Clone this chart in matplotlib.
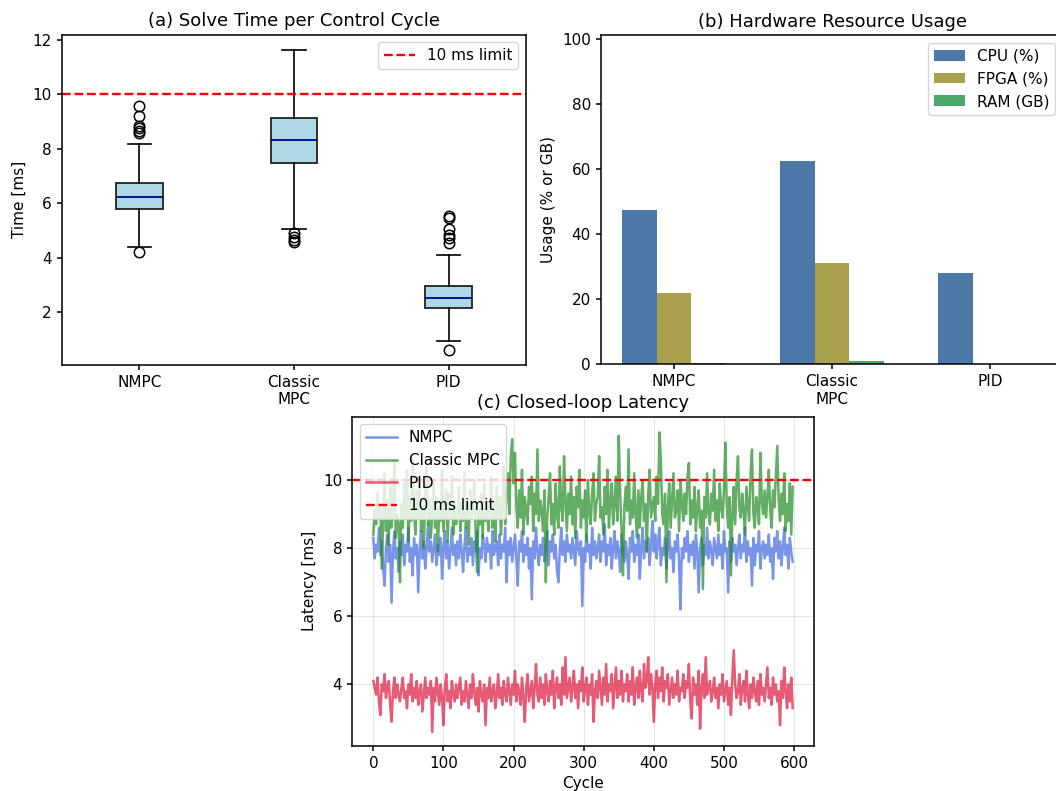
import matplotlib
matplotlib.use("Agg")
import matplotlib.pyplot as plt
import numpy as np

plt.rcParams.update({
    "font.size": 11,
    "axes.titlesize": 13,
    "axes.labelsize": 11,
    "legend.fontsize": 11,
    "axes.linewidth": 1.1,
    "xtick.major.width": 1.1,
    "ytick.major.width": 1.1,
    "xtick.major.size": 3.8,
    "ytick.major.size": 3.8,
})

# ---------------- data ----------------
controllers = ["NMPC", "Classic\nMPC", "PID"]

# (a) box-plot statistics
box_med = [6.23, 8.32, 2.53]
box_q1 = [5.77, 7.46, 2.14]
box_q3 = [6.73, 9.12, 2.96]
box_wlo = [4.40, 5.05, 0.95]
box_whi = [8.17, 11.61, 4.10]
fliers_nmpc = [4.21, 8.57, 8.66, 8.76, 8.84, 9.20, 9.57]
fliers_mpc = [4.59, 4.65, 4.75, 4.89]
fliers_pid = [0.63, 4.53, 4.71, 4.83, 5.04, 5.44, 5.53]

# (b) hardware usage
cpu = [47.4, 62.6, 28.0]
fpga = [21.8, 31.1, 0.0]
ram = [0.5, 0.9, 0.0]

# (c) closed-loop latency (every 2nd cycle)
cycles = list(range(0, 600, 2))
lat_nmpc = [
    8.3,7.7,8.1,7.9,8.6,7.8,8.2,7.4,6.9,8.0,8.4,7.6,8.1,6.4,7.9,8.5,7.7,8.0,7.3,8.2,
    7.8,8.4,7.5,8.1,7.9,8.6,7.6,8.0,7.2,8.3,7.8,8.1,6.7,7.9,8.5,7.7,8.2,7.4,8.0,8.7,
    7.9,8.2,7.6,8.0,8.4,7.5,8.1,7.8,8.3,7.1,8.0,8.5,7.7,8.2,7.4,7.9,8.6,7.8,8.1,7.5,
    8.2,7.7,8.4,7.9,7.3,8.1,8.6,7.6,8.0,7.8,8.3,7.5,8.2,7.9,8.5,7.2,8.0,7.7,8.4,8.1,
    7.6,8.3,7.9,8.1,7.4,8.5,7.8,8.0,8.2,7.5,8.4,7.7,8.1,7.9,8.6,7.0,8.2,7.8,8.3,7.6,
    8.0,8.4,7.7,6.9,8.2,7.9,8.5,7.6,8.1,7.8,8.3,7.4,8.0,6.5,8.2,7.7,8.6,7.9,7.5,8.1,
    7.8,8.3,7.6,8.0,8.5,7.5,8.2,7.9,8.4,7.7,8.1,7.3,7.0,8.0,8.6,7.8,8.2,7.6,8.4,7.9,
    8.1,7.7,8.3,7.9,7.5,8.5,8.0,7.8,8.2,6.3,8.0,7.6,8.4,7.9,8.1,7.4,8.6,7.8,8.2,7.7,
    8.0,8.4,7.6,8.2,7.9,8.7,7.5,8.1,7.8,8.3,7.4,8.0,8.5,7.7,8.2,7.9,7.3,8.4,8.0,7.6,
    8.2,7.8,7.1,8.3,7.9,8.5,7.6,8.1,7.8,8.4,7.1,8.0,8.6,7.7,8.2,7.9,8.3,7.5,8.1,8.8,
    7.9,8.4,7.7,8.2,8.6,7.5,8.0,7.8,8.3,7.4,8.1,8.5,7.7,8.0,7.3,8.2,7.9,8.4,7.6,6.2,
    8.0,7.7,8.3,7.9,8.5,7.6,8.1,7.8,8.2,7.4,8.4,7.9,6.7,8.0,8.3,7.5,8.1,7.8,8.6,7.7,
    8.2,7.9,7.5,8.3,8.0,7.7,8.4,7.8,8.1,7.4,8.5,7.9,8.0,6.7,8.2,7.6,8.3,7.9,8.1,7.5,
    8.0,8.4,7.7,8.1,7.9,8.6,7.6,8.2,7.8,8.0,6.9,8.3,7.5,8.1,7.9,8.5,7.4,8.0,8.2,7.7,
    8.1,7.8,8.4,7.6,8.0,7.1,8.3,7.9,8.5,7.7,8.2,7.5,8.0,8.6,7.8,8.1,7.4,8.3,7.9,7.6,
]
lat_mpc = [
    8.4,9.1,8.7,9.6,8.9,9.3,7.4,8.8,10.2,8.5,9.4,8.1,9.8,8.6,9.2,10.5,8.3,9.0,8.7,7.0,
    9.3,8.6,9.9,8.9,10.3,8.2,9.5,8.8,10.6,9.1,8.4,9.7,8.9,10.1,8.5,9.2,8.0,9.6,10.4,8.7,
    9.4,8.3,9.0,10.0,8.6,9.5,7.9,9.2,8.8,10.3,8.5,9.1,9.7,8.2,9.6,8.9,10.1,8.4,9.3,8.7,
    9.0,9.8,8.5,9.3,8.8,10.2,8.6,9.4,8.1,9.7,8.9,9.2,10.0,8.4,7.3,9.1,8.7,9.6,8.3,9.9,
    8.8,9.4,8.5,9.1,10.1,8.6,9.3,8.2,9.8,8.9,9.5,8.4,9.2,10.4,8.7,9.6,10.2,9.0,10.7,11.2,
    9.9,10.8,9.2,8.6,9.7,8.9,10.3,8.4,9.5,9.1,8.7,9.8,9.3,10.1,8.5,9.6,9.0,10.9,8.8,9.4,
    9.1,8.5,9.7,7.0,8.9,9.5,10.2,8.7,9.3,8.4,9.9,9.0,8.6,10.4,9.2,8.8,10.7,9.4,8.5,9.6,
    9.0,10.1,8.7,9.5,8.3,9.8,9.2,10.3,8.6,9.4,8.9,9.7,8.2,10.0,9.1,8.7,9.6,10.2,8.8,9.3,
    9.5,10.7,8.9,9.2,8.4,9.8,9.0,10.3,8.6,9.4,9.9,8.7,9.3,10.1,8.8,11.3,9.6,8.5,7.2,9.2,
    9.8,9.1,10.9,8.7,9.4,8.9,10.2,9.0,8.3,9.7,8.6,9.5,10.0,8.8,9.3,7.9,9.6,10.3,8.9,9.2,
    9.5,8.8,10.1,9.3,11.4,10.6,9.0,8.7,9.6,7.0,9.2,9.9,8.6,9.4,10.2,8.9,9.1,9.7,8.5,10.0,
    9.3,8.8,9.6,9.0,10.1,10.5,8.7,9.4,8.9,9.8,8.5,9.2,9.7,8.6,9.1,6.8,9.5,8.9,10.2,9.0,
    8.7,9.6,9.1,10.3,8.8,9.4,8.5,9.9,9.2,8.9,9.7,11.1,9.3,8.6,9.5,7.2,9.0,9.8,8.7,10.0,
    10.7,9.2,8.9,9.6,9.1,8.4,9.8,9.3,8.8,10.2,10.9,9.0,8.6,9.5,9.2,8.7,10.8,9.4,9.0,9.7,
    8.9,9.5,10.3,9.1,8.6,9.7,9.2,10.1,11.0,9.4,8.8,9.6,9.0,10.2,8.5,9.3,8.8,9.9,8.4,9.8,
]
lat_pid = [
    4.1,3.9,3.7,4.2,3.5,3.1,4.0,3.8,4.3,3.6,3.9,4.1,3.4,2.9,3.8,4.2,3.6,4.0,3.7,3.5,
    3.9,4.2,3.6,3.8,3.3,4.0,3.7,4.3,3.5,3.9,3.6,4.1,3.4,3.8,4.0,3.2,3.7,4.2,3.6,3.9,
    3.7,4.1,2.6,3.9,3.5,4.2,3.8,3.4,4.0,3.6,2.8,3.9,4.3,3.5,3.8,3.3,4.1,3.7,3.5,4.0,
    3.6,3.9,4.2,3.4,3.8,3.5,4.1,3.7,3.3,4.0,3.6,4.3,3.8,3.4,3.9,3.2,4.1,3.7,3.5,4.0,
    2.8,3.9,3.6,4.2,3.5,3.8,4.0,3.3,3.7,4.3,3.6,3.9,3.4,4.1,3.7,3.5,4.2,3.8,3.4,4.0,
    3.7,4.4,3.5,4.0,3.8,3.4,4.2,3.6,2.9,3.9,4.3,3.5,3.8,4.1,3.3,3.9,4.6,3.7,3.5,4.2,
    3.6,4.0,3.4,4.3,3.8,3.5,4.1,3.7,4.4,3.3,3.9,4.2,3.6,4.0,3.4,4.5,3.7,4.8,3.6,3.9,
    4.2,3.5,3.9,4.4,3.6,4.0,3.3,4.1,3.8,4.5,3.5,3.9,4.2,3.4,4.0,3.7,4.3,2.9,3.8,4.1,
    3.6,4.4,3.9,3.4,4.2,3.7,4.6,3.5,4.0,3.8,4.3,3.3,3.9,4.5,3.6,4.1,3.7,4.4,3.5,4.0,
    3.8,4.3,3.5,4.1,3.7,4.5,3.4,3.9,4.2,3.6,4.4,3.8,3.5,4.6,3.9,4.1,4.8,3.7,4.3,3.9,
    2.9,4.0,4.4,3.6,4.2,3.8,4.5,3.5,4.1,3.9,4.3,3.4,3.8,4.2,3.6,4.0,3.7,4.4,3.5,3.9,
    3.8,4.3,3.6,4.1,3.9,4.6,3.5,3.0,4.2,3.7,4.0,3.4,4.4,2.7,3.9,4.3,3.6,4.8,3.7,3.9,
    4.1,3.5,3.8,4.2,3.6,3.9,3.3,4.0,3.7,4.3,3.5,3.8,4.1,3.4,3.9,3.1,4.2,5.0,4.0,3.6,
    3.8,4.3,3.4,3.9,4.1,3.5,4.4,3.7,3.3,4.0,3.6,4.2,3.8,3.5,4.1,3.4,4.3,3.7,3.9,3.5,
    4.0,4.5,3.6,3.9,3.4,4.2,3.7,4.0,3.5,3.8,2.8,4.1,3.6,4.5,3.8,3.3,4.0,3.5,4.2,3.3,
]
limit_ms = 10.0

# ---------------- figure ----------------
fig = plt.figure(figsize=(10.56, 7.91), dpi=100)
W, H = 1056.0, 791.0

def px_axes(left, top, right, bottom):
    return fig.add_axes([left / W, 1 - bottom / H, (right - left) / W, (bottom - top) / H])

# (a) box plot
axA = px_axes(62, 34.6, 526, 364.5)
all_fliers = [fliers_nmpc, fliers_mpc, fliers_pid]
stats = []
for i, lab in enumerate(controllers):
    stats.append(dict(label=lab, med=box_med[i], q1=box_q1[i], q3=box_q3[i],
                      whislo=box_wlo[i], whishi=box_whi[i], fliers=all_fliers[i]))
axA.bxp(stats, positions=[1, 2, 3], widths=0.3, patch_artist=True,
        boxprops=dict(facecolor="lightblue", edgecolor="#222222", linewidth=1.3),
        medianprops=dict(color="darkblue", linewidth=1.3),
        whiskerprops=dict(color="black", linewidth=1.2),
        capprops=dict(color="black", linewidth=1.2),
        flierprops=dict(marker="o", markerfacecolor="none", markeredgecolor="black",
                        markersize=7.5, markeredgewidth=1.1))
axA.axhline(limit_ms, color="red", linestyle="--", linewidth=1.7, label="10 ms limit")
axA.set_xlim(0.5, 3.5)
axA.set_ylim(0.08, 12.18)
axA.set_ylabel("Time [ms]")
axA.set_title("(a) Solve Time per Control Cycle")
axA.legend(loc="upper right")

# (b) grouped bars
axB = px_axes(601, 35, 1063, 364.3)
xb = np.arange(len(controllers))
w = 0.22
axB.bar(xb - w, cpu, w, color="#4C78A8", label="CPU (%)")
axB.bar(xb, fpga, w, color="#A8A04C", label="FPGA (%)")
axB.bar(xb + w, ram, w, color="#4CA868", label="RAM (GB)")
axB.set_xticks(xb)
axB.set_xticklabels(controllers)
axB.set_xlim(-0.463, 2.463)
axB.set_ylim(0, 101.2)
axB.set_ylabel("Usage (% or GB)")
axB.set_title("(b) Hardware Resource Usage")
axB.legend(loc="upper right")

# (c) latency traces
axC = px_axes(352.3, 416.7, 814.4, 745.7)
axC.plot(cycles, lat_nmpc, color="royalblue", alpha=0.7, linewidth=1.8, label="NMPC")
axC.plot(cycles, lat_mpc, color="forestgreen", alpha=0.7, linewidth=1.8, label="Classic MPC")
axC.plot(cycles, lat_pid, color="crimson", alpha=0.7, linewidth=1.8, label="PID")
axC.axhline(limit_ms, color="red", linestyle="--", linewidth=1.7, label="10 ms limit")
axC.set_xlim(-30, 629)
axC.set_ylim(2.2, 11.86)
axC.set_yticks([4, 6, 8, 10])
axC.set_xlabel("Cycle")
axC.set_ylabel("Latency [ms]")
axC.set_title("(c) Closed-loop Latency")
axC.grid(True, alpha=0.3)
axC.legend(loc="upper left")

fig.savefig("out.png", dpi=100)
